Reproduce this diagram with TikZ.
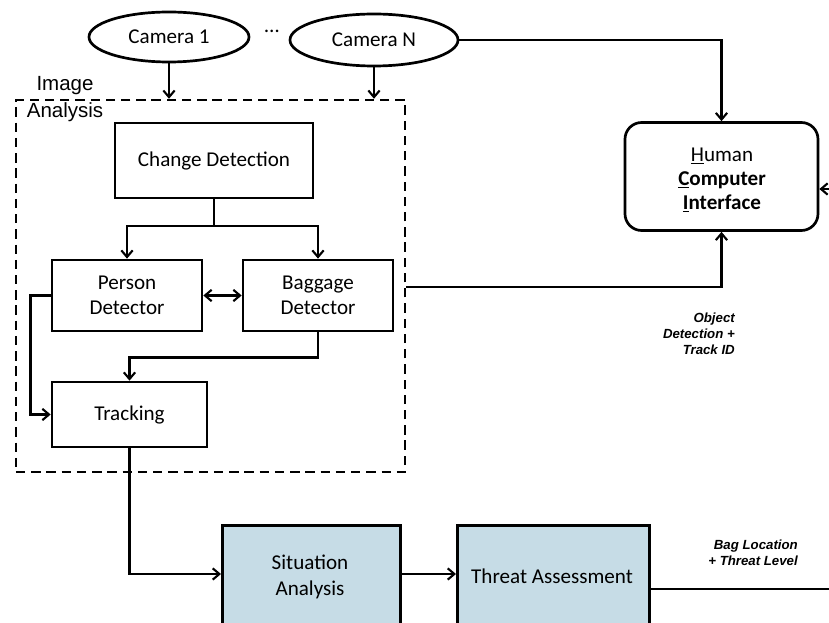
\documentclass[tikz,border=0pt]{standalone}
\usepackage{fontspec}
\setmainfont{Carlito}
\newfontfamily\arialfont{Liberation Sans}
\usetikzlibrary{arrows.meta}
\usetikzlibrary{shapes.geometric}

\begin{document}
\begin{tikzpicture}[
    >={Straight Barb[length=2mm,width=3.4mm,line width=1.8pt]},
    x=0.03cm, y=-0.03cm,
    line width=2.1pt,
    every node/.style={
        font=\fontsize{18}{21.5}\selectfont,
        align=center,
        inner sep=0pt
    },
    block/.style={draw, rectangle, line width=2.3pt},
    camera/.style={draw, ellipse, line width=2.3pt},
    stage/.style={block, fill=stageblue},
    note/.style={font=\arialfont\bfseries\itshape\fontsize{11.3}{13.6}\selectfont, align=right}
]
\definecolor{stageblue}{RGB}{198,220,230}

\useasboundingbox (0,0) rectangle (829,623);
\clip (0,0) rectangle (829,623);

%---------------------------------
% Nodes
%---------------------------------

% Cameras
\node[camera, minimum width=4.8cm, minimum height=1.5cm] (cam1) at (169,37) {Camera 1};
\node (dots) at (272,31) {…};
\node[camera, minimum width=5.04cm, minimum height=1.56cm] (camN) at (374,40) {Camera N};

% Image analysis frame
\node[draw, dash pattern=on 8pt off 5pt, line width=2.1pt, minimum width=11.67cm, minimum height=11.16cm] (frame) at (210.5,286) {};
\node[font=\arialfont\fontsize{17.5}{23}\selectfont, align=center] (framelabel) at (65,99) {Image\\Analysis};

% Detectors
\node[block, minimum width=5.94cm, minimum height=2.25cm] (change) at (214,160.5) {Change Detection};
\node[block, minimum width=4.5cm, minimum height=2.13cm] (person) at (127,295.5) {Person\\Detector};
\node[block, minimum width=4.5cm, minimum height=2.13cm] (baggage) at (318,295.5) {Baggage\\Detector};
\node[block, minimum width=4.65cm, minimum height=1.95cm] (tracking) at (129.5,414.5) {Tracking};

% Later stages
\node[stage, anchor=north west, minimum width=5.34cm, minimum height=3.6cm] (situation) at (221,524) {};
\node (situationtext) at (310,577) {Situation\\Analysis};
\node[stage, anchor=north west, minimum width=5.76cm, minimum height=3.6cm] (threat) at (456,524) {};
\node (threattext) at (552,576) {Threat Assessment};

% Interface
\node[draw, rounded corners=5mm, line width=2.3pt, minimum width=5.79cm, minimum height=3.24cm] (hci) at (721.5,176.5) {};
\node[font=\fontsize{18}{20.5}\selectfont] (hcitext) at (722,180)
    {\underline{H}uman\\\textbf{\underline{C}omputer}\\\textbf{\underline{I}nterface}};

% Labels
\node[note, anchor=east] (objlabel) at (736,334) {Object\\Detection +\\Track ID};
\node[note, anchor=east] (baglabel) at (799,553) {Bag Location\\+ Threat Level};

\coordinate (hciin) at (840,189);
\coordinate (threatout) at (840,589);

%---------------------------------
% Arrows
%---------------------------------

% Cameras into the frame and the interface
\draw[->] (cam1.south) -- (frame.north -| cam1.south);
\draw[->] (camN.south) -- (frame.north -| camN.south);
\draw[->] (camN.east) -| (hci.north);

% Inside the frame
\draw (change.south) -- (214,226);
\draw[->] (214,226) -| (person.north);
\draw[->] (214,226) -| (baggage.north);
\draw[<->] (person.east) -- (baggage.west);
\draw[->] (person.west) -- ++(-20,0) |- (tracking.west);
\draw[->] (baggage.south) -- ++(0,25) -| (tracking.north);

% Out of the frame
\draw[->] (frame.east |- 0,287) -| (hci.south);
\draw[->] (tracking.south) |- (situation.west |- 0,574);
\draw[->] (situation.east |- 0,574) -- (threat.west |- 0,574);
\draw (threat.east |- threatout) -- (threatout);
\draw[->] (hciin) -- (hci.east |- hciin);

\end{tikzpicture}
\end{document}
